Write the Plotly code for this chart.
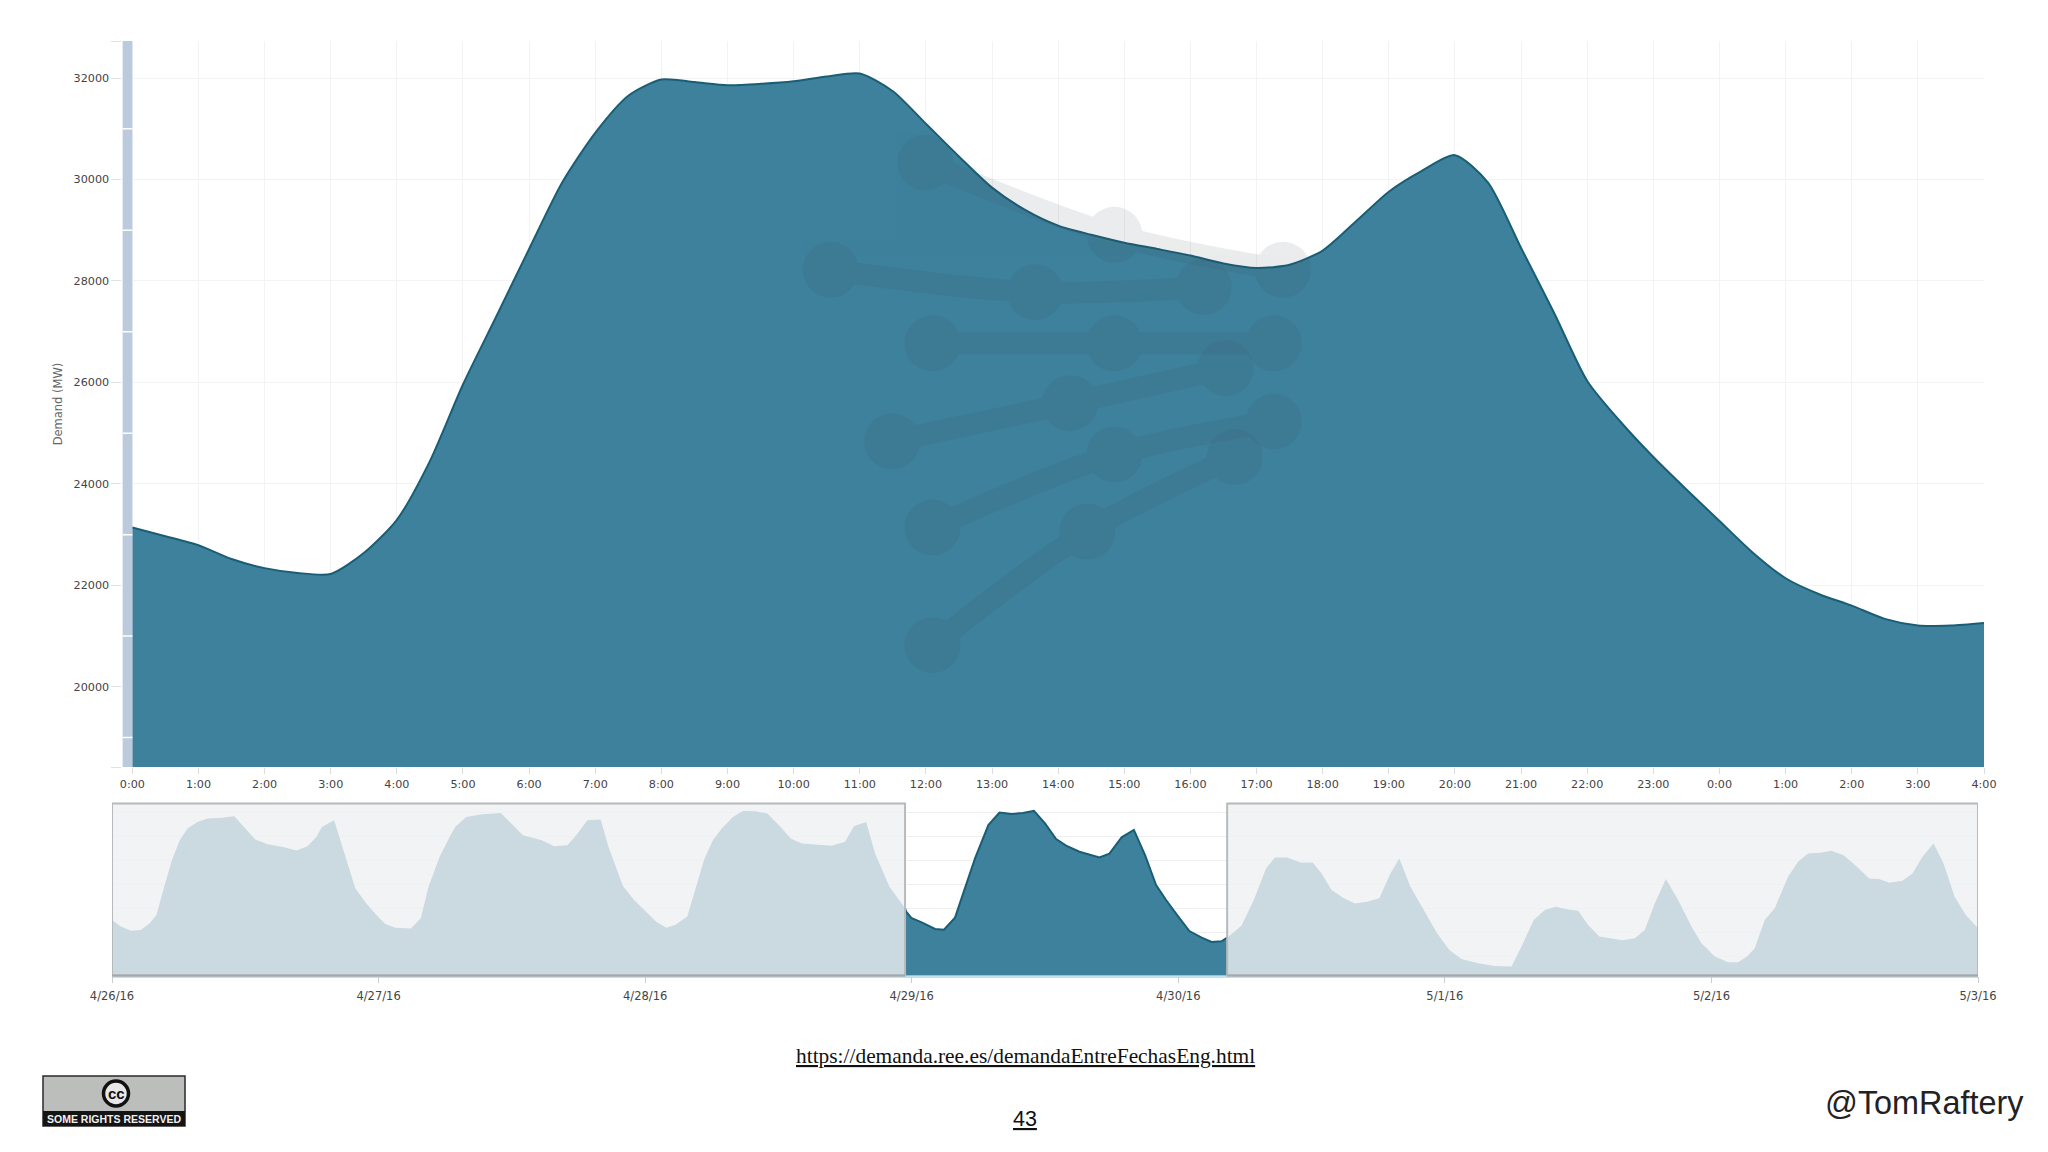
import numpy as np
import pandas as pd
import plotly.graph_objects as go

W, H = 2048, 1152

# main chart, half hour readings starting 4/29/16 0:00
demand_mw = [23141, 22970, 22790, 22520, 22340, 22245, 22225, 22637, 23292, 24450,
             25960, 27290, 28630, 29940, 30920, 31650, 31970, 31920, 31860, 31885,
             31935, 32030, 32090, 31740, 31100, 30455, 29840, 29400, 29090, 28910,
             28755, 28630, 28500, 28345, 28255, 28320, 28600, 29170, 29760, 30170,
             30480, 29940, 28650, 27370, 26030, 25230, 24530, 23890, 23270, 22650,
             22140, 21830, 21600, 21340, 21210, 21210, 21260]
demand_hours = [i / 2 for i in range(len(demand_mw))]
hour_labels = ["0:00", "1:00", "2:00", "3:00", "4:00", "5:00", "6:00", "7:00", "8:00", "9:00",
               "10:00", "11:00", "12:00", "13:00", "14:00", "15:00", "16:00", "17:00", "18:00",
               "19:00", "20:00", "21:00", "22:00", "23:00", "0:00", "1:00", "2:00", "3:00", "4:00"]
y_ticks = [20000, 22000, 24000, 26000, 28000, 30000, 32000]
y_notches = [19000, 21000, 23000, 25000, 27000, 29000, 31000]

# navigator, hours since 4/26/16 0:00
nav_hours = [0.0, 0.8, 1.7, 2.6, 3.4, 4.0, 4.7, 5.4, 6.1, 6.8, 7.7, 8.6, 9.7, 11.0, 12.0, 12.9,
             14.0, 15.4, 16.6, 17.6, 18.4, 18.9, 20.0, 20.9, 21.9, 22.9, 23.8, 24.6, 25.5, 26.9,
             27.8, 28.5, 29.5, 30.4, 30.9, 31.9, 33.2, 35.0, 36.1, 37.0, 38.7, 39.8, 41.0, 41.8,
             42.8, 44.0, 44.7, 46.0, 47.0, 48.2, 49.0, 49.9, 50.7, 51.8, 52.5, 53.3, 54.1, 54.9,
             55.9, 56.8, 57.9, 59.0, 60.2, 61.1, 62.1, 63.7, 64.8, 66.0, 66.8, 67.9, 68.7, 70.0,
             71.4, 71.5, 72.0, 72.9, 74.1, 74.9, 75.9, 76.8, 77.7, 78.9, 79.9, 81.0, 82.0, 83.0,
             84.0, 85.0, 85.9, 87.1, 88.9, 89.8, 90.9, 92.0, 93.0, 94.0, 94.9, 96.0, 97.0, 98.1,
             99.0, 99.9, 100.4, 101.7, 102.8, 103.9, 104.7, 105.8, 107.0, 108.1, 108.9, 109.8,
             110.9, 111.9, 113.0, 114.1, 115.1, 115.9, 116.9, 118.1, 119.3, 120.4, 121.5, 123.0,
             124.5, 126.0, 126.9, 128.0, 129.0, 130.0, 131.1, 132.0, 132.9, 133.9, 135.0, 136.0,
             137.1, 138.0, 138.9, 139.9, 141.0, 142.2, 143.1, 144.3, 145.5, 146.4, 147.2, 147.9,
             148.8, 149.7, 150.9, 151.8, 152.7, 153.8, 154.8, 155.9, 157.1, 158.2, 159.1, 160.0,
             161.2, 162.1, 163.0, 164.0, 164.9, 165.9, 166.9, 168.0]
nav_mw = [23040, 22490, 22150, 22210, 22760, 23450, 25810, 28020, 29680, 30650, 31200, 31480,
          31530, 31670, 30650, 29730, 29350, 29120, 28820, 29180, 29950, 30780, 31340, 28570,
          25670, 24420, 23450, 22710, 22400, 22320, 23180, 25810, 28300, 29950, 30780, 31610,
          31810, 31950, 30920, 30090, 29680, 29180, 29260, 30090, 31340, 31390, 29120, 25860,
          24700, 23590, 22900, 22400, 22620, 23320, 25530, 28020, 29680, 30650, 31610, 32110,
          32080, 31890, 30780, 29820, 29400, 29260, 29210, 29540, 30840, 31200, 28570, 25810,
          24010, 23730, 23180, 22840, 22290, 22230, 23230, 25670, 28170, 30940, 31970, 31860,
          31940, 32110, 31080, 29780, 29220, 28720, 28250, 28560, 29920, 30530, 28450, 25950,
          24700, 23320, 22120, 21570, 21210, 21260, 21570, 22570, 24700, 27330, 28240, 28240,
          27820, 27820, 26910, 25530, 24840, 24420, 24560, 24840, 26910, 28160, 25810, 23870,
          21930, 20550, 19800, 19440, 19220, 19170, 20830, 23040, 23870, 24150, 23920, 23810,
          22620, 21660, 21520, 21350, 21520, 22210, 24420, 26440, 24700, 22490, 21100, 20000,
          19530, 19530, 20000, 20690, 23040, 24010, 26640, 27880, 28570, 28630, 28790, 28430,
          27470, 26500, 26440, 26140, 26300, 26910, 28300, 29400, 27740, 24980, 23450, 22350]
nav_days = ["2016-04-26", "2016-04-27", "2016-04-28", "2016-04-29", "2016-04-30", "2016-05-01", "2016-05-02", "2016-05-03"]
nav_day_labels = ["4/26/16", "4/27/16", "4/28/16", "4/29/16", "4/30/16", "5/1/16", "5/2/16", "5/3/16"]
window_hours = [71.4, 100.4]

# the faint hand overlay on top of the chart
overlay_hours = [[11.99, 14.85, 17.4], [10.56, 13.65, 16.2], [12.1, 14.85, 17.26],
                 [11.49, 14.18, 16.53], [12.1, 14.85, 17.26], [12.1, 14.44, 16.67]]
overlay_mw = [[30330, 28910, 28220], [28220, 27780, 27880], [26770, 26770, 26770],
              [24840, 25590, 26280], [23140, 24580, 25230], [20820, 23060, 24530]]

main_start = pd.Timestamp("2016-04-29")
nav_start = pd.Timestamp("2016-04-26")
y_range = [18420, 32730]


def at(start, hours):
    return start + pd.to_timedelta(np.array(hours, dtype=float) * 3600, unit="s")


def px(x):
    return x / W


def py(y):
    return 1 - y / H


TEAL = "#3E819C"
DARK = "#1A5E75"
AXIS_FONT = "DejaVu Sans"

fig = go.Figure()
fig.add_trace(go.Scatter(x=at(main_start, demand_hours), y=demand_mw, mode="lines",
                         line=dict(color=DARK, width=2, shape="spline", smoothing=0.7),
                         fill="tozeroy", fillcolor=TEAL, xaxis="x", yaxis="y", showlegend=False))
for hrs, mw in zip(overlay_hours, overlay_mw):
    fig.add_trace(go.Scatter(x=at(main_start, hrs), y=mw, mode="lines+markers", opacity=0.1,
                             line=dict(color="#3A4A55", width=22, shape="spline"),
                             marker=dict(color="#3A4A55", size=56),
                             xaxis="x", yaxis="y", showlegend=False))

nav_h = np.array(nav_hours)
nav_v = np.array(nav_mw)
sel = (nav_h >= window_hours[0]) & (nav_h <= window_hours[1])
fig.add_trace(go.Scatter(x=at(nav_start, nav_h), y=nav_v, mode="lines", line=dict(width=0),
                         fill="tozeroy", fillcolor=TEAL, xaxis="x2", yaxis="y2", showlegend=False))
fig.add_trace(go.Scatter(x=at(nav_start, nav_h[sel]), y=nav_v[sel], mode="lines",
                         line=dict(color=DARK, width=2), xaxis="x2", yaxis="y2", showlegend=False))

shapes = []
# blue band left of the first hour, with white notches
band_left = main_start - pd.Timedelta(minutes=9)
shapes.append(dict(type="rect", xref="x", yref="y domain", x0=band_left, x1=main_start, y0=0, y1=1,
                   fillcolor="#BBCBDD", line_width=0, layer="above"))
for v in y_notches:
    shapes.append(dict(type="line", xref="x", yref="y", x0=band_left, x1=main_start, y0=v, y1=v,
                       line=dict(color="white", width=1.5), layer="above"))

# navigator masks either side of the window
win0, win1 = at(nav_start, window_hours)
nav_end = pd.Timestamp(nav_days[-1])
for a, b in [(nav_start, win0), (win1, nav_end)]:
    shapes.append(dict(type="rect", xref="x2", yref="y2 domain", x0=a, x1=b, y0=0, y1=1,
                       fillcolor="rgba(238,240,241,0.8)", line=dict(color="#B7BABC", width=2), layer="above"))
    shapes.append(dict(type="line", xref="x2", yref="y2 domain", x0=a, x1=b, y0=0, y1=0,
                       line=dict(color="#A3A8AA", width=2), layer="above"))

# creative commons badge
shapes.append(dict(type="rect", xref="paper", yref="paper", x0=px(43), x1=px(185), y0=py(1076), y1=py(1126),
                   fillcolor="#BCBEBC", line=dict(color="#2A2A2A", width=1.5)))
shapes.append(dict(type="rect", xref="paper", yref="paper", x0=px(43), x1=px(185), y0=py(1111), y1=py(1126),
                   fillcolor="#141414", line_width=0))
shapes.append(dict(type="circle", xref="paper", yref="paper", x0=px(103.5), x1=px(128.5), y0=py(1081), y1=py(1106),
                   fillcolor="#E8E8E8", line=dict(color="#111111", width=3.5)))

annotations = [
    dict(text="<u>https://demanda.ree.es/demandaEntreFechasEng.html</u>", x=px(1025), y=py(1056),
         font=dict(family="Liberation Serif", size=21.4, color="#111111")),
    dict(text="<u>43</u>", x=px(1025), y=py(1119), font=dict(family="Liberation Sans", size=21.5, color="#111111")),
    dict(text="@TomRaftery", x=px(1924), y=py(1103), font=dict(family="Liberation Sans", size=32.4, color="#222222")),
    dict(text="<b>cc</b>", x=px(116), y=py(1093), font=dict(family="Liberation Sans", size=15, color="#111111")),
    dict(text="<b>SOME RIGHTS RESERVED</b>", x=px(114), y=py(1119),
         font=dict(family="Liberation Sans", size=10.5, color="#F0F0F0")),
]
for a in annotations:
    a.update(xref="paper", yref="paper", showarrow=False, xanchor="center", yanchor="middle")

fig.update_layout(
    width=W, height=H, margin=dict(l=0, r=0, t=0, b=0), autosize=False,
    paper_bgcolor="white", plot_bgcolor="white", showlegend=False,
    shapes=shapes, annotations=annotations,
    xaxis=dict(domain=[px(122.4), px(1984)], anchor="y", type="date", automargin=False,
               range=[band_left, at(main_start, [28])[0]],
               tickmode="array", tickvals=at(main_start, list(range(len(hour_labels)))), ticktext=hour_labels,
               ticks="outside", ticklen=6, tickcolor="#DDDDDD", showline=False, ticklabelstandoff=1,
               showgrid=True, gridcolor="#F3F2F4", gridwidth=1, zeroline=False,
               tickfont=dict(family=AXIS_FONT, size=11.2, color="#444444")),
    yaxis=dict(domain=[py(767), py(41)], anchor="x", range=y_range, automargin=False,
               tickmode="array", tickvals=y_range + y_ticks, ticktext=["", ""] + [str(t) for t in y_ticks],
               ticks="outside", ticklen=10, tickcolor="#E2E2E2",
               showgrid=True, gridcolor="#F3F2F4", gridwidth=1, zeroline=False,
               tickfont=dict(family=AXIS_FONT, size=11.2, color="#444444"),
               title=dict(text="Demand (MW)", standoff=8, font=dict(family=AXIS_FONT, size=11.5, color="#666666"))),
    xaxis2=dict(domain=[px(112), px(1978)], anchor="y2", type="date", automargin=False,
                range=[nav_start, nav_end],
                tickmode="array", tickvals=nav_days, ticktext=nav_day_labels,
                ticks="outside", ticklen=6, tickcolor="#CCCCCC", ticklabelstandoff=3,
                showline=True, linecolor="#BFE3EE", linewidth=1.5, showgrid=False, zeroline=False,
                tickfont=dict(family=AXIS_FONT, size=11.5, color="#444444")),
    yaxis2=dict(domain=[py(975.5), py(803.5)], anchor="x2", range=y_range, automargin=False,
                tickmode="array", tickvals=y_ticks, showticklabels=False, ticks="",
                showgrid=True, gridcolor="#EFEFEF", gridwidth=1, zeroline=False),
)

fig.write_html("out.html", config={"displayModeBar": False}, post_script="document.body.style.margin='0';")
